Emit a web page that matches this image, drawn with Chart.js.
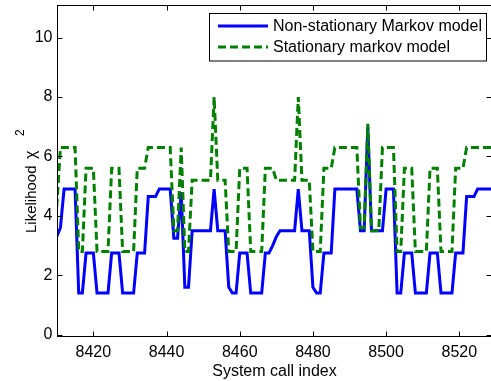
<!DOCTYPE html>
<html>
<head>
<meta charset="utf-8">
<script src="https://cdn.jsdelivr.net/npm/chart.js@4"></script>
<style>
html, body { margin: 0; padding: 0; overflow: hidden; background: #fff; }
#wrap { width: 493px; height: 381px; }
</style>
</head>
<body>
<div id="wrap"><canvas id="graphic"></canvas></div>
<script>
var callIndex = [
    8410, 8411, 8412, 8413, 8414, 8415, 8416, 8417, 8418, 8419,
    8420, 8421, 8422, 8423, 8424, 8425, 8426, 8427, 8428, 8429,
    8430, 8431, 8432, 8433, 8434, 8435, 8436, 8437, 8438, 8439,
    8440, 8441, 8442, 8443, 8444, 8445, 8446, 8447, 8448, 8449,
    8450, 8451, 8452, 8453, 8454, 8455, 8456, 8457, 8458, 8459,
    8460, 8461, 8462, 8463, 8464, 8465, 8466, 8467, 8468, 8469,
    8470, 8471, 8472, 8473, 8474, 8475, 8476, 8477, 8478, 8479,
    8480, 8481, 8482, 8483, 8484, 8485, 8486, 8487, 8488, 8489,
    8490, 8491, 8492, 8493, 8494, 8495, 8496, 8497, 8498, 8499,
    8500, 8501, 8502, 8503, 8504, 8505, 8506, 8507, 8508, 8509,
    8510, 8511, 8512, 8513, 8514, 8515, 8516, 8517, 8518, 8519,
    8520, 8521, 8522, 8523, 8524, 8525, 8526, 8527, 8528, 8529
];

var nonStationary = [
    3.3, 3.6, 4.9, 4.9, 4.9, 4.9, 1.4, 1.4, 2.75, 2.75,
    2.75, 1.4, 1.4, 1.4, 1.4, 2.75, 2.75, 2.75, 1.4, 1.4,
    1.4, 1.4, 2.75, 2.75, 2.75, 4.65, 4.65, 4.65, 4.9, 4.9,
    4.9, 4.9, 3.25, 3.25, 4.8, 1.6, 1.6, 3.5, 3.5, 3.5,
    3.5, 3.5, 3.5, 4.9, 3.5, 3.5, 3.5, 1.6, 1.4, 1.4,
    2.75, 2.75, 2.75, 1.4, 1.4, 1.4, 1.4, 2.75, 2.75, 3.0,
    3.3, 3.5, 3.5, 3.5, 3.5, 3.5, 4.9, 3.5, 3.5, 3.5,
    1.6, 1.4, 1.4, 2.75, 2.75, 2.75, 4.9, 4.9, 4.9, 4.9,
    4.9, 4.9, 4.9, 3.5, 3.5, 7.0, 3.5, 3.5, 3.5, 3.5,
    4.9, 4.9, 4.9, 1.4, 1.4, 2.75, 2.75, 2.75, 1.4, 1.4,
    1.4, 1.4, 2.75, 2.75, 2.75, 1.4, 1.4, 1.4, 1.4, 2.75,
    2.75, 2.75, 4.65, 4.65, 4.65, 4.9, 4.9, 4.9, 4.9, 4.9
];

var stationary = [
    4.3, 6.3, 6.3, 6.3, 6.3, 6.3, 2.8, 2.8, 5.6, 5.6,
    5.6, 2.8, 2.8, 2.8, 2.8, 5.6, 5.6, 5.6, 2.8, 2.8,
    2.8, 2.8, 5.6, 5.6, 5.6, 6.3, 6.3, 6.3, 6.3, 6.3,
    6.3, 6.3, 3.5, 3.5, 6.3, 2.8, 2.8, 5.2, 5.2, 5.2,
    5.2, 5.2, 5.2, 8.0, 5.2, 5.2, 5.2, 2.8, 2.8, 2.8,
    5.6, 5.6, 5.6, 2.8, 2.8, 2.8, 2.8, 5.6, 5.6, 5.6,
    5.2, 5.2, 5.2, 5.2, 5.2, 5.2, 8.0, 5.2, 5.2, 5.2,
    2.8, 2.8, 2.8, 5.6, 5.6, 5.6, 6.3, 6.3, 6.3, 6.3,
    6.3, 6.3, 6.3, 3.6, 3.6, 7.1, 3.5, 3.5, 3.5, 6.3,
    6.3, 6.3, 6.3, 2.8, 2.8, 5.6, 5.6, 5.6, 2.8, 2.8,
    2.8, 2.8, 5.6, 5.6, 5.6, 2.8, 2.8, 2.8, 2.8, 5.6,
    5.6, 5.6, 6.3, 6.3, 6.3, 6.3, 6.3, 6.3, 6.3, 6.3
];

var xTicks = [8420, 8440, 8460, 8480, 8500, 8520];
var yTicks = [0, 2, 4, 6, 8, 10];
var seriesLabels = ['Non-stationary Markov model', 'Stationary markov model'];

var fontFamily = '"Liberation Sans", Arial, sans-serif';

function toPoints(values) {
    return callIndex.map(function (x, i) { return { x: x, y: values[i] }; });
}

// box, inward ticks on all sides, y title with superscript, legend
var framePlugin = {
    id: 'frame',
    afterDatasetsDraw: function (chart) {
        var ctx = chart.ctx;
        var a = chart.chartArea;
        var sx = chart.scales.x;
        var sy = chart.scales.y;
        ctx.save();
        ctx.strokeStyle = '#000';
        ctx.lineWidth = 1;
        ctx.setLineDash([]);
        ctx.strokeRect(a.left, a.top, a.right - a.left, a.bottom - a.top);
        ctx.beginPath();
        xTicks.forEach(function (v) {
            var px = Math.round(sx.getPixelForValue(v)) + 0.5;
            ctx.moveTo(px, a.bottom); ctx.lineTo(px, a.bottom - 5);
            ctx.moveTo(px, a.top); ctx.lineTo(px, a.top + 5);
        });
        yTicks.forEach(function (v) {
            var py = Math.round(sy.getPixelForValue(v)) + 0.5;
            ctx.moveTo(a.left, py); ctx.lineTo(a.left + 5, py);
            ctx.moveTo(a.right, py); ctx.lineTo(a.right - 5, py);
        });
        ctx.stroke();

        // y axis title: Likelihood chi^2
        ctx.save();
        ctx.translate(36, 233);
        ctx.rotate(-Math.PI / 2);
        ctx.fillStyle = '#000';
        ctx.textAlign = 'left';
        ctx.textBaseline = 'alphabetic';
        ctx.font = '15px ' + fontFamily;
        ctx.fillText('Likelihood', 0, 0);
        ctx.font = '16px ' + fontFamily;
        ctx.fillText('\u03c7', 74, 0);
        ctx.font = '12px ' + fontFamily;
        ctx.fillText('2', 97, -12);
        ctx.restore();

        // legend
        var bx = 209.5, by = 13.5, bw = 277, bh = 47.5;
        ctx.fillStyle = '#fff';
        ctx.fillRect(bx, by, bw, bh);
        ctx.strokeRect(bx, by, bw, bh);
        var rows = [26, 47];
        chart.data.datasets.forEach(function (ds, i) {
            ctx.beginPath();
            ctx.strokeStyle = ds.borderColor;
            ctx.lineWidth = ds.borderWidth;
            ctx.setLineDash(ds.borderDash || []);
            ctx.moveTo(218, rows[i]);
            ctx.lineTo(268, rows[i]);
            ctx.stroke();
            ctx.setLineDash([]);
            ctx.fillStyle = '#000';
            ctx.font = '16px ' + fontFamily;
            ctx.textBaseline = 'middle';
            ctx.textAlign = 'left';
            ctx.fillText(ds.label, 273, rows[i] + 1);
        });
        ctx.restore();
    }
};

function noEdgePadding(s) {
    s.paddingTop = 0;
    s.paddingBottom = 0;
    s.paddingLeft = 0;
    s.paddingRight = 0;
}

var ctx = document.getElementById('graphic').getContext('2d');

var graphic = new Chart(ctx, {
    type: 'line',
    data: {
        datasets: [{
            label: seriesLabels[0],
            data: toPoints(nonStationary),
            borderColor: '#0000ff',
            borderWidth: 3,
            pointRadius: 0,
            tension: 0,
            order: 2
        }, {
            label: seriesLabels[1],
            data: toPoints(stationary),
            borderColor: '#008000',
            borderWidth: 3,
            borderDash: [8, 4],
            pointRadius: 0,
            tension: 0,
            order: 1
        }]
    },
    options: {
        responsive: true,
        maintainAspectRatio: false,
        animation: false,
        devicePixelRatio: 1,
        layout: { padding: { left: 0, top: 5.5, right: 1.5, bottom: 0 } },
        plugins: {
            legend: { display: false },
            tooltip: { enabled: false }
        },
        scales: {
            x: {
                type: 'linear',
                min: 8410.2,
                max: 8528.8,
                afterBuildTicks: function (s) { s.ticks = xTicks.map(function (v) { return { value: v }; }); },
                afterFit: function (s) { s.height = 44.5; noEdgePadding(s); },
                grid: { display: false, drawTicks: false },
                border: { display: false },
                ticks: {
                    color: '#000',
                    font: { family: fontFamily, size: 16 },
                    padding: 6,
                    maxRotation: 0,
                    autoSkip: false,
                    callback: function (v) { return String(v); }
                },
                title: {
                    display: true,
                    text: 'System call index',
                    color: '#000',
                    font: { family: fontFamily, size: 16 },
                    padding: { top: 0, bottom: 0 }
                }
            },
            y: {
                min: -0.06,
                max: 11.08,
                afterBuildTicks: function (s) { s.ticks = yTicks.map(function (v) { return { value: v }; }); },
                afterFit: function (s) { s.width = 57.5; noEdgePadding(s); },
                grid: { display: false, drawTicks: false },
                border: { display: false },
                ticks: {
                    color: '#000',
                    font: { family: fontFamily, size: 16 },
                    padding: 5
                },
                title: { display: false }
            }
        }
    },
    plugins: [framePlugin]
});
</script>
</body>
</html>
